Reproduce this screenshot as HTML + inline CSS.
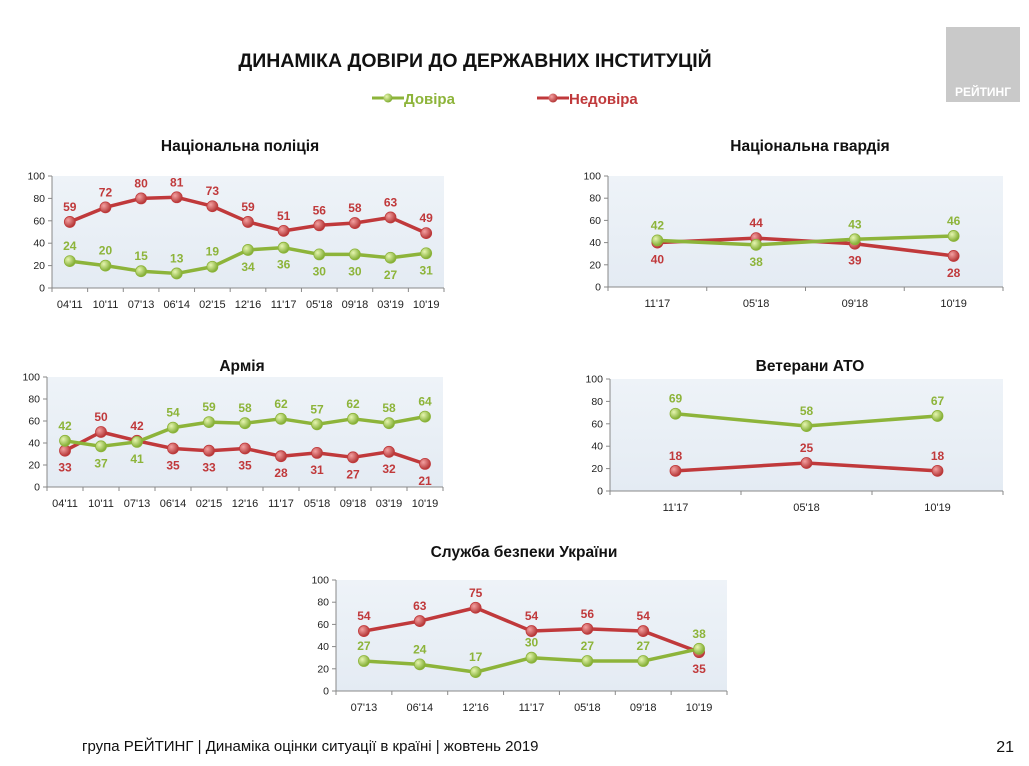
<!DOCTYPE html>
<html><head><meta charset="utf-8"><style>
body{margin:0;width:1029px;height:761px;overflow:hidden;background:#fff;font-family:"Liberation Sans",Arial,sans-serif;}
svg text{font-family:"Liberation Sans",Arial,sans-serif;}
</style></head><body>
<svg id="s" width="1029" height="761" xmlns="http://www.w3.org/2000/svg">
<defs>
<linearGradient id="bg" x1="0" y1="0" x2="0" y2="1"><stop offset="0" stop-color="#eef3f8"/><stop offset="1" stop-color="#e4ebf3"/></linearGradient>
<radialGradient id="gG" cx="0.35" cy="0.35" r="0.7"><stop offset="0" stop-color="#e6f5b0"/><stop offset="1" stop-color="#7aa82a"/></radialGradient>
<radialGradient id="gR" cx="0.35" cy="0.35" r="0.7"><stop offset="0" stop-color="#f3a0a0"/><stop offset="1" stop-color="#b02f2f"/></radialGradient>
</defs>
<rect x="946" y="27" width="74" height="75" fill="#c9c9c9"/>
<text x="983" y="96" font-size="12" font-weight="bold" fill="#fff" text-anchor="middle">РЕЙТИНГ</text>
<text x="475" y="67" font-size="19.5" font-weight="bold" fill="#111" text-anchor="middle">ДИНАМІКА ДОВІРИ ДО ДЕРЖАВНИХ ІНСТИТУЦІЙ</text>
<g><line x1="372" y1="98" x2="404" y2="98" stroke="#8db43a" stroke-width="3"/><circle cx="388" cy="98" r="4.5" fill="url(#gG)"/><text x="404" y="104" font-size="15" font-weight="bold" fill="#8db43a">Довіра</text></g>
<g><line x1="537" y1="98" x2="569" y2="98" stroke="#c0393b" stroke-width="3"/><circle cx="553" cy="98" r="4.5" fill="url(#gR)"/><text x="569" y="104" font-size="15" font-weight="bold" fill="#c0393b">Недовіра</text></g>
<text x="240" y="151" font-size="15.5" font-weight="bold" fill="#111" text-anchor="middle">Національна поліція</text>
<text x="810" y="151" font-size="15.5" font-weight="bold" fill="#111" text-anchor="middle">Національна гвардія</text>
<text x="242" y="371" font-size="15.5" font-weight="bold" fill="#111" text-anchor="middle">Армія</text>
<text x="810" y="371" font-size="15.5" font-weight="bold" fill="#111" text-anchor="middle">Ветерани АТО</text>
<text x="524" y="557" font-size="15.5" font-weight="bold" fill="#111" text-anchor="middle">Служба безпеки України</text>
<text x="82" y="751" font-size="15" fill="#111">група РЕЙТИНГ |  Динаміка оцінки ситуації в країні  |  жовтень  2019</text>
<text x="1014" y="752" font-size="16" fill="#111" text-anchor="end">21</text>
</svg>
<script>
const policeCats=["04'11","10'11","07'13","06'14","02'15","12'16","11'17","05'18","09'18","03'19","10'19"];
const policeTrust=[24,20,15,13,19,34,36,30,30,27,31];
const policeDistrust=[59,72,80,81,73,59,51,56,58,63,49];
const guardCats=["11'17","05'18","09'18","10'19"];
const guardTrust=[42,38,43,46];
const guardDistrust=[40,44,39,28];
const armyCats=policeCats;
const armyTrust=[42,37,41,54,59,58,62,57,62,58,64];
const armyDistrust=[33,50,42,35,33,35,28,31,27,32,21];
const vetCats=["11'17","05'18","10'19"];
const vetTrust=[69,58,67];
const vetDistrust=[18,25,18];
const sbuCats=["07'13","06'14","12'16","11'17","05'18","09'18","10'19"];
const sbuTrust=[27,24,17,30,27,27,38];
const sbuDistrust=[54,63,75,54,56,54,35];
const yTicks=[0,20,40,60,80,100];

const S=document.getElementById('s');
const NS='http://www.w3.org/2000/svg';
function mk(tag,attrs,parent){const e=document.createElementNS(NS,tag);for(const k in attrs)e.setAttribute(k,attrs[k]);(parent||S).appendChild(e);return e;}

function chart(name,box,cats,trust,distrust,tPos,dPos){
  const g=mk('g',{});
  
  
  const bw=(box.x1-box.x0)/cats.length;
  const X=i=>box.x0+bw*(i+0.5);
  const Y=v=>box.y0-(box.y0-box.y1)*v/100;
  mk('rect',{x:box.x0,y:box.y1,width:box.x1-box.x0,height:box.y0-box.y1,fill:'url(#bg)'},g);
  mk('line',{x1:box.x0,y1:box.y1,x2:box.x0,y2:box.y0,stroke:'#888'},g);
  mk('line',{x1:box.x0,y1:box.y0,x2:box.x1,y2:box.y0,stroke:'#888'},g);
  yTicks.forEach(t=>{
    mk('line',{x1:box.x0-4,y1:Y(t),x2:box.x0,y2:Y(t),stroke:'#888'},g);
    const tx=mk('text',{x:box.x0-7,y:Y(t)+3.5,'font-size':10.5,'text-anchor':'end',fill:'#222'},g);
    tx.textContent=t;
    
    
  });
  for(let i=0;i<=cats.length;i++) mk('line',{x1:box.x0+bw*i,y1:box.y0,x2:box.x0+bw*i,y2:box.y0+4,stroke:'#888'},g);
  cats.forEach((c,i)=>{
    const tx=mk('text',{x:X(i),y:box.y0+20,'font-size':11,'text-anchor':'middle',fill:'#222'},g);
    tx.textContent=c;
    
    
  });
  [[distrust,'#c0393b','url(#gR)',dPos,'distrust'],[trust,'#8db43a','url(#gG)',tPos,'trust']].forEach(([vals,col,fill,pos,sn])=>{
    const pl=mk('polyline',{points:vals.map((v,i)=>X(i)+','+Y(v)).join(' '),fill:'none',stroke:col,'stroke-width':3.5,'stroke-linejoin':'round'},g);
    
    
    vals.forEach((v,i)=>{
      const c=mk('circle',{cx:X(i),cy:Y(v),r:5.5,fill:fill,stroke:col,'stroke-width':0.8},g);
      
      
      const up=pos[i]==='u';
      const tx=mk('text',{x:X(i),y:up?Y(v)-11:Y(v)+21,'font-size':12,'font-weight':'bold','text-anchor':'middle',fill:col},g);
      tx.textContent=v;
      
      
    });
  });
}
chart('police',{x0:52,x1:444,y0:288,y1:176},policeCats,policeTrust,policeDistrust,'uuuuudddddd','uuuuuuuuuuu');
chart('guard',{x0:608,x1:1003,y0:287,y1:176},guardCats,guardTrust,guardDistrust,'uduu','dudd');
chart('army',{x0:47,x1:443,y0:487,y1:377},armyCats,armyTrust,armyDistrust,'udduuuuuuuu','duudddddddd');
chart('veterans',{x0:610,x1:1003,y0:491,y1:379},vetCats,vetTrust,vetDistrust,'uuu','uuu');
chart('sbu',{x0:336,x1:727,y0:691,y1:580},sbuCats,sbuTrust,sbuDistrust,'uuuuuuu','uuuuuud');
</script>
</body></html>
